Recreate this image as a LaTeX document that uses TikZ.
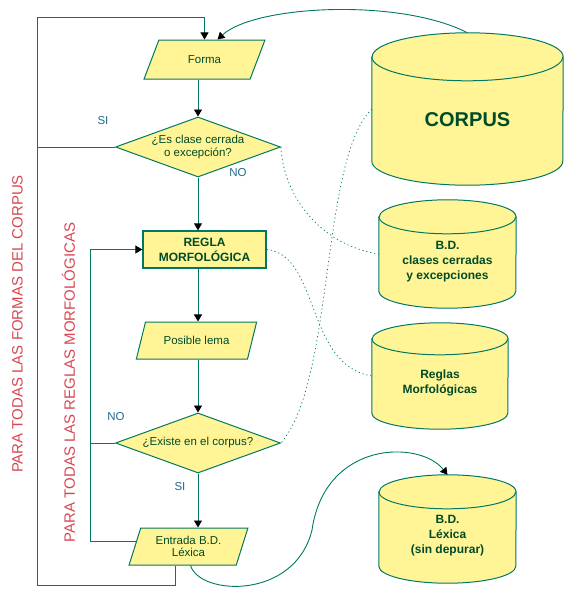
\documentclass[tikz,border=0pt]{standalone}
\usepackage{fontspec}
\setmainfont{Liberation Sans}
\usetikzlibrary{shapes.geometric}
\usetikzlibrary{arrows.meta}
\definecolor{amarillo}{RGB}{255,244,150}
\definecolor{borde}{RGB}{0,120,100}
\definecolor{texto}{RGB}{0,75,40}
\definecolor{etiqueta}{RGB}{30,105,140}
\definecolor{rojo}{RGB}{215,70,80}
\tikzstyle{caja}=[draw=borde, fill=amarillo, text=texto, line width=1pt, align=center, inner sep=0pt, font=\fontsize{11.5}{12.5}\selectfont]
\tikzstyle{datos}=[caja, trapezium, trapezium left angle=56, trapezium right angle=124, trapezium stretches=true, minimum height=39pt, minimum width=121pt]
\tikzstyle{decision}=[caja, diamond, aspect=2.75, minimum width=165pt, minimum height=60pt]
\tikzstyle{proceso}=[caja, rectangle, line width=1.3pt, minimum width=123pt, minimum height=37pt, font=\fontsize{12}{15}\selectfont\bfseries]
\tikzstyle{bd}=[rectangle, inner sep=0pt]
\tikzstyle{cilindro}=[draw=borde, fill=amarillo, line width=1pt]
\tikzstyle{bdtexto}=[text=texto, align=center, font=\fontsize{12}{15}\selectfont\bfseries]
\tikzstyle{flecha}=[draw=borde, line width=0.9pt, -{Triangle[width=8pt,length=7pt,color=black]}]
\tikzstyle{linea}=[draw=borde, line width=0.9pt]
\tikzstyle{punteada}=[draw=borde, line width=0.7pt, dash pattern=on 1.2pt off 2.8pt]
\tikzstyle{sino}=[text=etiqueta, font=\fontsize{11.5}{13}\selectfont]
\tikzstyle{bucle}=[text=rojo, rotate=90, font=\fontsize{15}{18}\selectfont]

\begin{document}
\begin{tikzpicture}[x=1pt, y=-1pt]
    \useasboundingbox (0,0) rectangle (565,589);
    % flujo principal
    \node[datos] (forma) at (204.5, 59.5) {Forma};
    \node[decision] (dec1) at (198, 147) {¿Es clase cerrada\\o excepción?};
    \node[proceso] (regla) at (204.5, 249.5) {REGLA\\MORFOLÓGICA};
    \node[datos, trapezium left angle=55, trapezium right angle=125, minimum height=37pt] (posible) at (196.5, 340.5) {Posible lema};
    \node[decision] (dec2) at (198, 443) {¿Existe en el corpus?};
    \node[datos, trapezium left angle=69, trapezium right angle=111, minimum height=37pt, minimum width=119pt] (entrada) at (188.5, 546.5) {Entrada B.D.\\Léxica};
    % bases de datos
    \node[bd, minimum width=191pt, minimum height=152pt] (corpus) at (467.5, 109) {};
    \node[bd, minimum width=137pt, minimum height=108pt] (clases) at (447.5, 254) {};
    \node[bd, minimum width=136pt, minimum height=106pt] (reglas) at (440, 376) {};
    \node[bd, minimum width=137pt, minimum height=108pt] (lexica) at (447.5, 529) {};
    \foreach \nombre/\rx/\ry in {corpus/95.5/24, clases/68.5/17, reglas/68/16, lexica/68.5/17} {
        \filldraw[cilindro] ([yshift=-\ry pt]\nombre.north west) -- ([yshift=\ry pt]\nombre.south west)
            arc[start angle=180, end angle=360, x radius=\rx pt, y radius=\ry pt]
            -- ([yshift=-\ry pt]\nombre.north east)
            arc[start angle=0, end angle=180, x radius=\rx pt, y radius=\ry pt] -- cycle;
        \draw[cilindro, fill=none] ([yshift=-\ry pt]\nombre.north west)
            arc[start angle=180, end angle=360, x radius=\rx pt, y radius=\ry pt];
    }
    \node[bdtexto, font=\fontsize{20}{24}\selectfont\bfseries] (corpustxt) at ([yshift=-11pt]corpus.center) {CORPUS};
    \node[bdtexto] (clasestxt) at ([yshift=-8pt]clases.center) {B.D.\\clases cerradas\\y excepciones};
    \node[bdtexto] (reglastxt) at ([yshift=-7pt]reglas.center) {Reglas\\Morfológicas};
    \node[bdtexto] (lexicatxt) at ([yshift=-7pt]lexica.center) {B.D.\\Léxica\\(sin depurar)};
    % etiquetas
    \node[sino] (si1) at (103, 121) {SI};
    \node[sino] (no1) at (238, 173) {NO};
    \node[sino] (no2) at (116, 417) {NO};
    \node[sino] (si2) at (180, 487) {SI};
    \node[bucle] (etqformas) at (17.5, 324) {PARA TODAS LAS FORMAS DEL CORPUS};
    \node[bucle] (etqreglas) at (68.5, 382.5) {PARA TODAS LAS REGLAS MORFOLÓGICAS};
    % bucles
    \coordinate (bucleformas) at (37, 17);
    \coordinate (buclereglas) at (90, 542);
    \draw[flecha] ([xshift=-13pt]entrada.south) -- ++(0, 20) -| (bucleformas) -| (forma.north);
    \draw[linea] (dec1.west) -- (dec1.west -| bucleformas);
    \draw[flecha] (entrada.174) -- (entrada.174 -| buclereglas) |- (regla.west);
    \draw[linea] (dec2.west) -- (dec2.west -| buclereglas);
    % flechas verticales
    \draw[flecha] (dec1.north |- forma.south) -- (dec1.north);
    \draw[flecha] (dec1.south) -- (dec1.south |- regla.north);
    \draw[flecha] (dec1.south |- regla.south) -- (dec1.south |- posible.north);
    \draw[flecha] (dec2.north |- posible.south) -- (dec2.north);
    \draw[flecha] (dec2.south) -- (dec2.south |- entrada.north);
    % curvas
    \draw[flecha] (corpus.north) .. controls (400, -2) and (255, 5) .. ([xshift=13pt]forma.north);
    \draw[flecha] ([xshift=2pt]entrada.south) .. controls (200, 596) and (295, 600) .. (312, 530)
        .. controls (325, 440) and (420, 440) .. (lexica.north);
    \draw[punteada] (dec1.east) .. controls (283, 195) and (320, 245) .. (clases.west);
    \draw[punteada] (corpus.west) .. controls (320, 160) and (335, 380) .. (dec2.east);
    \draw[punteada] (regla.east) .. controls (320, 255) and (305, 365) .. (reglas.west);
\end{tikzpicture}
\end{document}
